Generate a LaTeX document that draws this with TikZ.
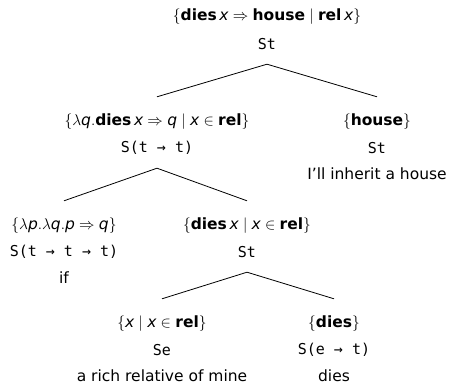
\RequirePackage{fix-cm}
\documentclass[tikz,border=0pt]{standalone}
\usepackage{fontspec}
\setmainfont{DejaVu Sans}
\setmonofont{DejaVu Sans Mono}
\usetikzlibrary{positioning}

\newcommand{\cn}[1]{\textbf{#1}}
\newcommand{\vr}[1]{\textit{#1}}

\begin{document}
\begin{tikzpicture}[x=1pt, y=-1pt,
    every node/.style={font=\fontsize{15.5}{18}\selectfont},
    sem/.style={inner sep=0pt, minimum height=50pt},
    typ/.style={font=\fontsize{15}{18}\selectfont\ttfamily, inner sep=0pt, minimum height=40pt},
    wrd/.style={inner sep=0pt},
    branch/.style={line width=0.8pt}
]
    \useasboundingbox (0,0) rectangle (451,386);

    % root
    \node[sem] (rootS) at (267,17) {$\{\cn{dies}\,\vr{x} \Rightarrow \cn{house} \mid \cn{rel}\,\vr{x}\}$};
    \node[typ] (rootT) at (267,44) {St};

    % if-clause
    \node[sem] (ifcS) at (157,122) {$\{\lambda\vr{q}.\cn{dies}\,\vr{x} \Rightarrow \vr{q} \mid \vr{x} \in \cn{rel}\}$};
    \node[typ] (ifcT) at (157,148) {S(t → t)};

    % main clause
    \node[sem] (mainS) at (377,122) {$\{\cn{house}\}$};
    \node[typ] (mainT) at (377,148) {St};
    \node[wrd] (mainW) at (377,174) {I’ll inherit a house};

    % connective
    \node[sem] (ifS) at (64,226) {$\{\lambda\vr{p}.\lambda\vr{q}.\vr{p} \Rightarrow \vr{q}\}$};
    \node[typ] (ifT) at (64,252) {S(t → t → t)};
    \node[wrd] (ifW) at (64,278) {if};

    % embedded clause
    \node[sem] (subS) at (247,226) {$\{\cn{dies}\,\vr{x} \mid \vr{x} \in \cn{rel}\}$};
    \node[typ] (subT) at (247,252) {St};

    % subject and verb
    \node[sem] (relS) at (162,324) {$\{\vr{x} \mid \vr{x} \in \cn{rel}\}$};
    \node[typ] (relT) at (162,350) {Se};
    \node[wrd] (relW) at (162,376) {a rich relative of mine};

    \node[sem] (diesS) at (334,324) {$\{\cn{dies}\}$};
    \node[typ] (diesT) at (334,350) {S(e → t)};
    \node[wrd] (diesW) at (334,376) {dies};

    \draw[branch] (ifcS.north) -- (rootT.south) -- (mainS.north);
    \draw[branch] (ifS.north) -- (ifcT.south) -- (subS.north);
    \draw[branch] (relS.north) -- (subT.south) -- (diesS.north);
\end{tikzpicture}
\end{document}
